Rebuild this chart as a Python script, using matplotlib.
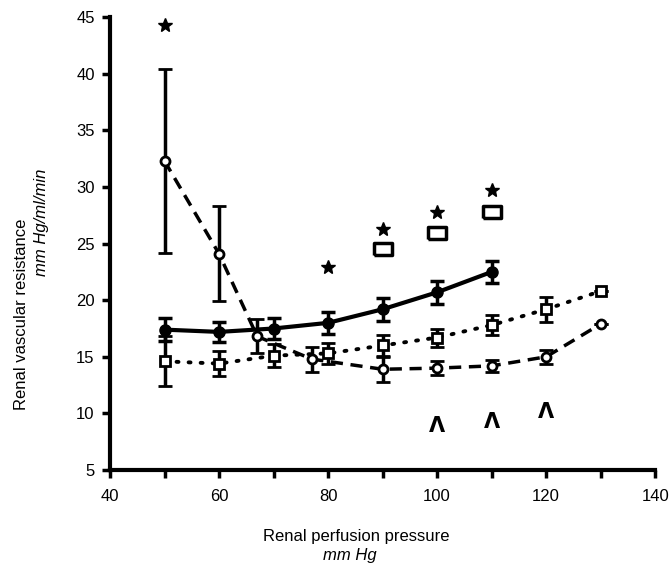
import matplotlib

matplotlib.use("Agg")
import matplotlib.pyplot as plt
from matplotlib.ticker import MultipleLocator

plt.rcParams["font.family"] = ["Liberation Sans", "DejaVu Sans"]

# dashed series, open circles
circle_x = [50, 60, 67, 77, 90, 100, 110, 120, 130]
circle_y = [32.3, 24.1, 16.8, 14.8, 13.9, 14.0, 14.2, 15.0, 17.9]
circle_err = [8.1, 4.2, 1.5, 1.1, 1.1, 0.6, 0.5, 0.6, 0.0]

# solid series, filled markers
solid_x = [50, 60, 70, 80, 90, 100, 110]
solid_y = [17.4, 17.2, 17.5, 18.0, 19.2, 20.7, 22.5]
solid_err = [1.0, 0.9, 0.9, 1.0, 1.0, 1.0, 1.0]

# dotted series, open squares
square_x = [50, 60, 70, 80, 90, 100, 110, 120, 130]
square_y = [14.6, 14.4, 15.1, 15.3, 16.0, 16.7, 17.8, 19.2, 20.8]
square_err = [2.2, 1.1, 1.0, 0.9, 0.9, 0.8, 0.9, 1.1, 0.0]

# significance marks
star_x = [50, 80, 90, 100, 110]
star_y = [44.3, 22.9, 26.3, 27.8, 29.7]
box_x = [90, 100, 110]
box_y = [24.5, 25.9, 27.8]
caret_x = [100, 110, 120]
caret_y = [8.9, 9.2, 10.1]

fig = plt.figure(figsize=(6.69, 5.66), dpi=100)
ax = fig.add_axes([0.1644, 0.1696, 0.815, 0.80])

err_kw = dict(ecolor="black", elinewidth=2.5, capsize=5, capthick=2.5)

ax.errorbar(circle_x, circle_y, yerr=circle_err, color="black", lw=2.5,
            linestyle=(0, (3.5, 2.2)), marker="o", markersize=6.5,
            markerfacecolor="white", markeredgecolor="black",
            markeredgewidth=2, zorder=3, **err_kw)
ax.errorbar(solid_x, solid_y, yerr=solid_err, color="black", lw=3,
            linestyle="-", marker="o", markersize=8,
            markerfacecolor="black", markeredgecolor="black",
            zorder=3, **err_kw)
ax.errorbar(square_x, square_y, yerr=square_err, color="black", lw=2.8,
            linestyle=(0, (0.5, 2.6)), dash_capstyle="round", marker="s",
            markersize=6.5, markerfacecolor="white", markeredgecolor="black",
            markeredgewidth=2, zorder=3, **err_kw)

ax.plot(star_x, star_y, linestyle="none", marker="*", markersize=10,
        color="black", zorder=4)
rect = [(-1.5, -1), (1.5, -1), (1.5, 1), (-1.5, 1), (-1.5, -1)]
ax.plot(box_x, box_y, linestyle="none", marker=rect, markersize=13,
        markerfacecolor="white", markeredgecolor="black",
        markeredgewidth=2.5, zorder=4)
for x, y in zip(caret_x, caret_y):
    ax.text(x, y, "\u039b", ha="center", va="center", fontsize=15,
            fontweight="bold", family="DejaVu Sans")

ax.set_xlim(40, 140)
ax.set_ylim(5, 45)
ax.xaxis.set_major_locator(MultipleLocator(20))
ax.xaxis.set_minor_locator(MultipleLocator(10))
ax.yaxis.set_major_locator(MultipleLocator(5))

for side in ("top", "right"):
    ax.spines[side].set_visible(False)
for side in ("left", "bottom"):
    ax.spines[side].set_linewidth(3)
ax.tick_params(which="both", direction="out", length=6, width=2.5,
               labelsize=12, pad=5)
ax.tick_params(axis="x", pad=8)

fig.text(0.032, 0.445, "Renal vascular resistance", rotation=90,
         ha="center", va="center", fontsize=12)
fig.text(0.062, 0.608, "mm Hg/ml/min", rotation=90, style="italic",
         ha="center", va="center", fontsize=12)
fig.text(0.533, 0.053, "Renal perfusion pressure", ha="center",
         va="center", fontsize=12)
fig.text(0.523, 0.019, "mm Hg", style="italic", ha="center",
         va="center", fontsize=12)

fig.savefig("out.png", dpi=100)
